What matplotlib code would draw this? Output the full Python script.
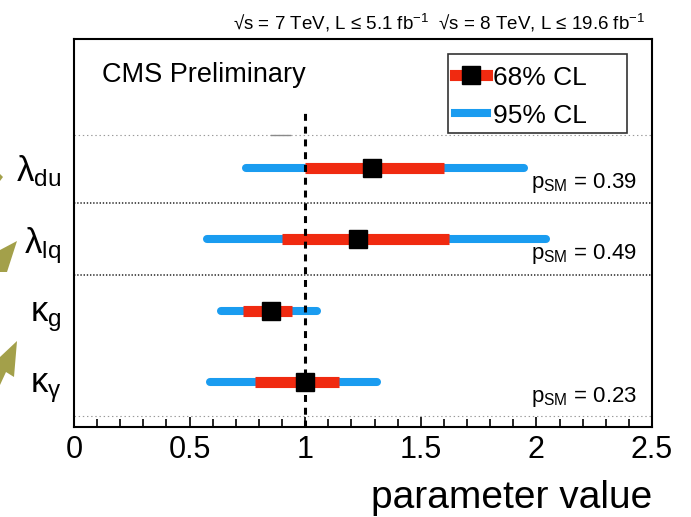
import matplotlib
matplotlib.use("Agg")
import matplotlib.pyplot as plt
from matplotlib.lines import Line2D
from matplotlib.patches import Rectangle, Polygon
from matplotlib.ticker import MultipleLocator
import matplotlib.transforms as mtransforms

plt.rcParams['font.family'] = ['Liberation Sans', 'DejaVu Sans']
plt.rcParams['mathtext.fontset'] = 'custom'
plt.rcParams['mathtext.rm'] = 'Liberation Sans'
plt.rcParams['mathtext.it'] = 'Liberation Sans:italic'
plt.rcParams['mathtext.bf'] = 'Liberation Sans:bold'
plt.rcParams['lines.scale_dashes'] = False

# ---------------- data ----------------
param_labels = [r'$\mathrm{λ_{du}}$', r'$\mathrm{λ_{lq}}$', r'$\mathrm{κ_{g}}$', r'$\mathrm{κ_{γ}}$']
best_fit = [1.29, 1.23, 0.85, 1.00]
lo68 = [1.00, 0.90, 0.73, 0.785]
hi68 = [1.60, 1.62, 0.945, 1.145]
lo95 = [0.745, 0.575, 0.635, 0.59]
hi95 = [1.945, 2.04, 1.05, 1.31]
p_sm = ['0.39', '0.49', None, '0.23']
x_ticks = [0, 0.5, 1, 1.5, 2, 2.5]
x_tick_labels = ['0', '0.5', '1', '1.5', '2', '2.5']

BLUE = '#1a9cf0'
RED = '#f02a10'
OLIVE = '#a3a04a'

W, H = 691, 517
fig = plt.figure(figsize=(W / 100, H / 100), dpi=100)
fig.patch.set_facecolor('white')

def fx(x):
    return x / W

def fy(y):
    return 1 - y / H

ax = fig.add_axes([fx(74), fy(427), (652 - 74) / W, (427 - 39) / H])
ax.set_xlim(0, 2.5)
ax.set_ylim(-0.63, 4.80)

n = len(param_labels)
ypos = [n - 1 - i for i in range(n)]

# light dotted boundaries and dark dotted separators
ax.axhline(3.45, color='#9a9a9a', lw=0.8, ls=(0, (1, 2)), zorder=1)
ax.axhline(-0.47, color='#9a9a9a', lw=0.8, ls=(0, (1, 2)), zorder=1)
for ysep in [2.5, 1.5]:
    ax.axhline(ysep, color='#444444', lw=1.3, ls=(0, (1, 1.3)), zorder=1)
ax.plot([0.85, 0.935], [3.45, 3.45], color='#8a8a8a', lw=1.0, zorder=1)

for i, y in enumerate(ypos):
    ax.plot([lo95[i], hi95[i]], [y, y], color=BLUE, lw=5.8,
            solid_capstyle='round', zorder=2)
    ax.plot([lo68[i], hi68[i]], [y, y], color=RED, lw=8.0,
            solid_capstyle='butt', zorder=3)

# SM reference line
ax.plot([1, 1], [-0.63, 3.77], color='black', lw=2.2,
        ls=(0, (5, 4.2)), zorder=4)

for i, y in enumerate(ypos):
    ax.plot([best_fit[i]], [y], marker='s', ms=13, color='black',
            mec='black', ls='none', zorder=5)

# p_SM annotations
blend = mtransforms.blended_transform_factory(ax.transAxes, ax.transData)
for i, y in enumerate(ypos):
    if p_sm[i] is not None:
        ax.text((637 - 74) / 578, y - 0.28, r'$\mathrm{p_{SM}}$ = ' + p_sm[i],
                transform=blend, ha='right', va='baseline', fontsize=16)

# axes styling
for sp in ax.spines.values():
    sp.set_linewidth(1.5)
    sp.set_color('black')
ax.set_xticks(x_ticks)
ax.set_xticklabels(x_tick_labels)
ax.xaxis.set_minor_locator(MultipleLocator(0.1))
ax.tick_params(axis='x', which='major', direction='in', length=7, width=1.2,
               labelsize=22, pad=6, top=False)
ax.tick_params(axis='x', which='minor', direction='in', length=5.5, width=1.2, top=False)
ax.set_yticks(ypos)
ax.set_yticklabels(param_labels)
ax.tick_params(axis='y', which='both', length=0, labelsize=25, pad=9)
ax.yaxis.set_minor_locator(plt.NullLocator())

ax.text(1.0, -0.209, 'parameter value', transform=ax.transAxes,
        ha='right', va='baseline', fontsize=28)

# CMS label
fig.text(fx(102), fy(82), 'CMS Preliminary', fontsize=19.5, ha='left', va='baseline')

# top energy/lumi text
fig.text(fx(645), fy(29),
         r'√s = 7 TeV, L ≤ 5.1 fb$^{-1}$  √s = 8 TeV, L ≤ 19.6 fb$^{-1}$',
         fontsize=13.5, ha='right', va='baseline')

# legend (manual)
fig.add_artist(Rectangle((fx(448), fy(133)), (627 - 448) / W, (133 - 54) / H,
                         transform=fig.transFigure, fill=False,
                         edgecolor='#333333', lw=1.2))
fig.add_artist(Line2D([fx(455), fx(487)], [fy(75), fy(75)], color=RED, lw=8,
                      transform=fig.transFigure))
fig.add_artist(Line2D([fx(471)], [fy(75)], marker='s', ms=13, color='black',
                      transform=fig.transFigure))
fig.add_artist(Line2D([fx(455), fx(487)], [fy(113), fy(113)], color=BLUE, lw=5.8,
                      transform=fig.transFigure))
fig.text(fx(493), fy(85), '68% CL', fontsize=19, ha='left', va='baseline')
fig.text(fx(493), fy(123), '95% CL', fontsize=19, ha='left', va='baseline')

# decorative olive arrows at left edge
for pts in [
    [(0, 250), (17, 241), (7, 272), (0, 272)],
    [(0, 357), (17, 341), (14, 377), (6, 372), (0, 385)],
    [(0, 174), (3, 177), (0, 181)],
]:
    fig.add_artist(Polygon([(fx(a), fy(b)) for a, b in pts], closed=True,
                           transform=fig.transFigure, facecolor=OLIVE,
                           edgecolor='none'))

fig.savefig('out.png', dpi=100, facecolor='white')
